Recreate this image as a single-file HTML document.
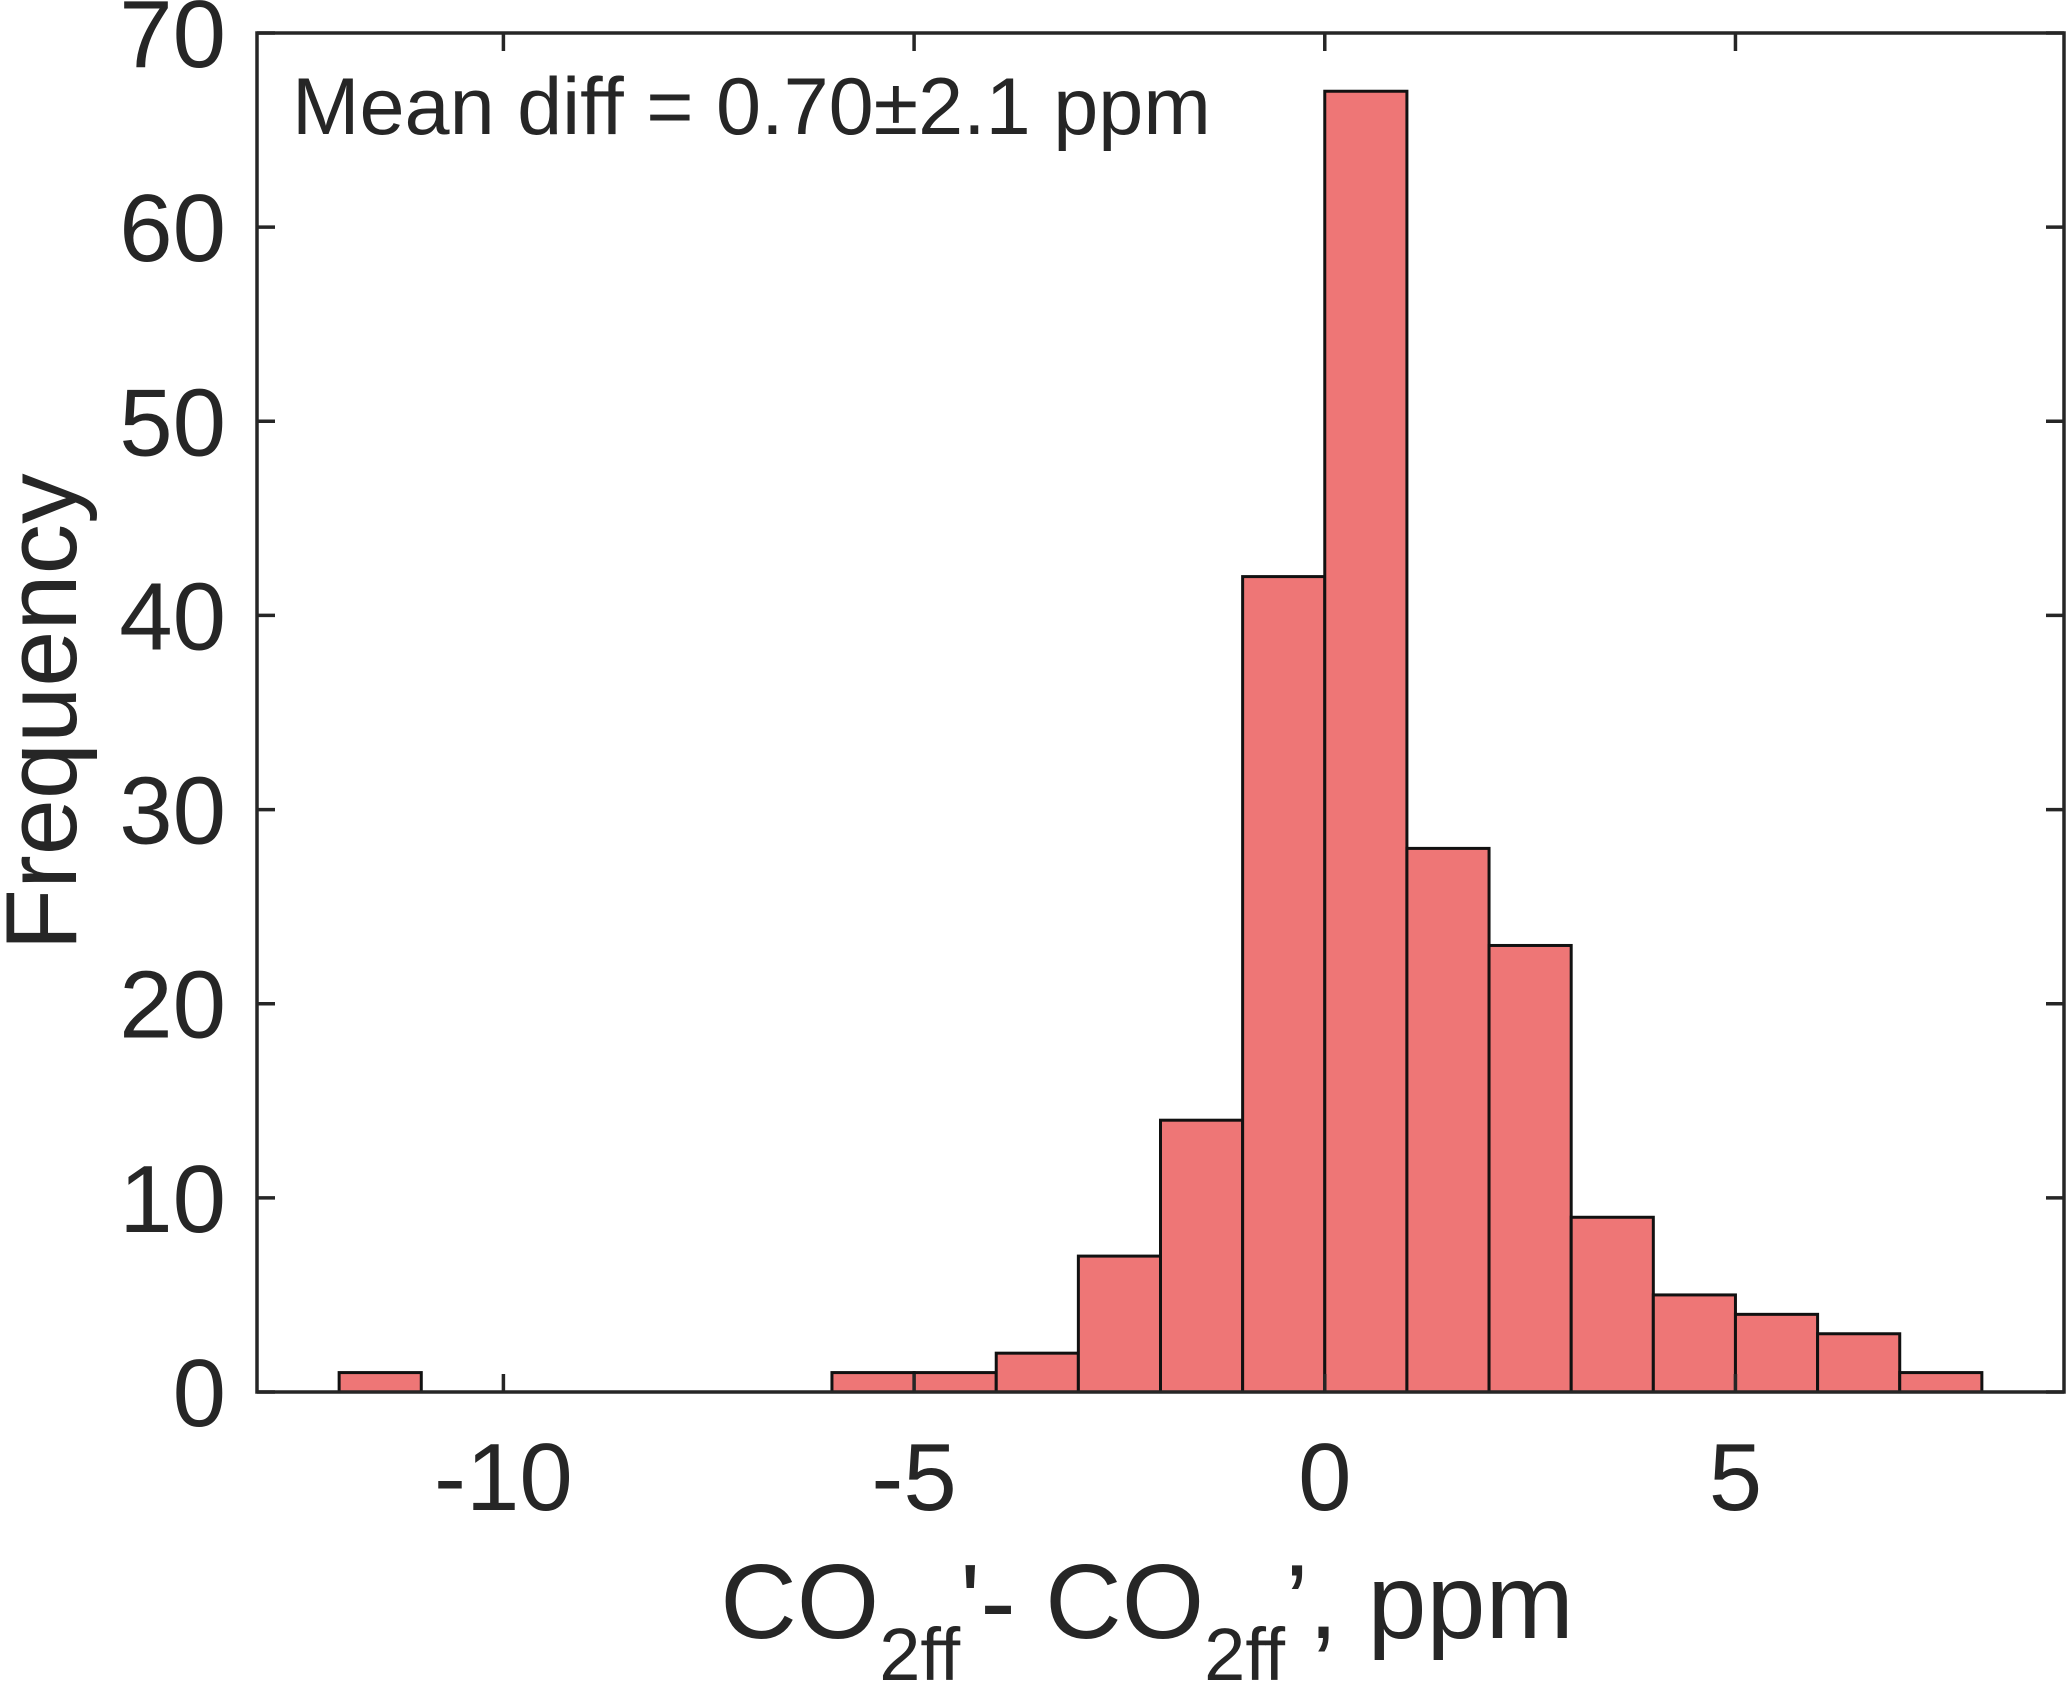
<!DOCTYPE html>
<html><head><meta charset="utf-8"><style>
body{margin:0;background:#fff}
svg{display:block}
text{font-family:"Liberation Sans",Arial,sans-serif;fill:#262626}
</style></head><body>
<svg id="chart" width="2067" height="1691" xmlns="http://www.w3.org/2000/svg">
<g id="bars"></g>
<g id="ticks"></g>
<rect x="257" y="33" width="1807" height="1359" fill="none" stroke="#262626" stroke-width="3.5"/>
<text x="292" y="134" font-size="81">Mean diff = 0.70±2.1 ppm</text>
<text transform="translate(76,712) rotate(-90)" text-anchor="middle" font-size="101">Frequency</text>
<text x="1147" y="1638" text-anchor="middle" font-size="106">CO<tspan font-size="74" dy="42">2ff</tspan><tspan dy="-42">'- CO</tspan><tspan font-size="74" dy="42">2ff</tspan><tspan dy="-42">’, ppm</tspan></text>
</svg>
<script>
const binStarts=[-12,-11,-10,-9,-8,-7,-6,-5,-4,-3,-2,-1,0,1,2,3,4,5,6,7];
const counts=[1,0,0,0,0,0,1,1,2,7,14,42,67,28,23,9,5,4,3,1];
const xTicks=[-10,-5,0,5];
const yTicks=[0,10,20,30,40,50,60,70];
const binWidth=1;
const L=257,R=2064,T=33,B=1392,xmin=-13,xmax=9,ymin=0,ymax=70;
const X=v=>L+(v-xmin)/(xmax-xmin)*(R-L);
const Y=v=>B-(v-ymin)/(ymax-ymin)*(B-T);
const NS='http://www.w3.org/2000/svg';
const bars=document.getElementById('bars');
binStarts.forEach((s,i)=>{
  if(counts[i]<=0)return;
  const r=document.createElementNS(NS,'rect');
  r.setAttribute('x',X(s));r.setAttribute('width',X(s+binWidth)-X(s));
  r.setAttribute('y',Y(counts[i]));r.setAttribute('height',Y(0)-Y(counts[i]));
  r.setAttribute('fill','#EE7676');r.setAttribute('stroke','#111');r.setAttribute('stroke-width','3');
  
  
  bars.appendChild(r);
});
const tg=document.getElementById('ticks');
function line(x1,y1,x2,y2){const l=document.createElementNS(NS,'line');l.setAttribute('x1',x1);l.setAttribute('y1',y1);l.setAttribute('x2',x2);l.setAttribute('y2',y2);l.setAttribute('stroke','#262626');l.setAttribute('stroke-width','3.5');


tg.appendChild(l);}
xTicks.forEach(v=>{
  line(X(v),B,X(v),B-18);line(X(v),T,X(v),T+18);
  const t=document.createElementNS(NS,'text');t.setAttribute('x',X(v));t.setAttribute('y',1510);t.setAttribute('text-anchor','middle');t.setAttribute('font-size','96');t.textContent=v;
  
  
  tg.appendChild(t);
});
yTicks.forEach(v=>{
  line(L,Y(v),L+18,Y(v));line(R,Y(v),R-18,Y(v));
  const t=document.createElementNS(NS,'text');t.setAttribute('x',226);t.setAttribute('y',Y(v)+34);t.setAttribute('text-anchor','end');t.setAttribute('font-size','96');t.textContent=v;
  
  
  tg.appendChild(t);
});
</script>
</body></html>
